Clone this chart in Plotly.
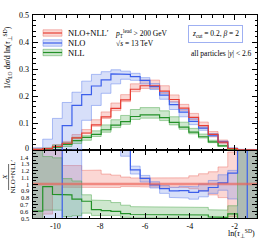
import numpy as np
import plotly.graph_objects as go

# ---- data ----
x_min, x_max, n_bins = -11.0, -1.0, 23
edges = np.linspace(x_min, x_max, n_bins + 1)

# NLO+NLL'
red_c  = [0.002, 0.0052, 0.013, 0.025, 0.045, 0.063, 0.093, 0.123, 0.154, 0.186, 0.225, 0.238,
          0.238, 0.218, 0.187, 0.155, 0.121, 0.090, 0.058, 0.0295, 0.005, 0.0005, 0.0002]
red_lo = [0.0, 0.0029, 0.011, 0.0238, 0.0428, 0.060, 0.088, 0.117, 0.146, 0.179, 0.216, 0.228,
          0.228, 0.209, 0.178, 0.147, 0.1125, 0.081, 0.0487, 0.0236, 0.0026, 0.0, 0.0]
red_hi = [0.006, 0.0083, 0.020, 0.0318, 0.0572, 0.0756, 0.112, 0.141, 0.174, 0.205, 0.245, 0.259,
          0.259, 0.238, 0.204, 0.169, 0.1355, 0.1035, 0.0684, 0.0369, 0.00735, 0.0015, 0.0006]
# NLO
blue_c  = [-0.10, -0.06, -0.03, 0.090, 0.165, 0.205, 0.237, 0.260, 0.282, 0.280, 0.272, 0.258,
           0.235, 0.203, 0.168, 0.140, 0.106, 0.081, 0.055, 0.030, 0.0058, 0.0008, 0.0]
blue_lo = [-0.3, -0.2, -0.15, -0.05, 0.0, 0.11, 0.165, 0.21, 0.245, 0.262, 0.258, 0.245,
           0.224, 0.188, 0.150, 0.123, 0.094, 0.073, 0.050, 0.0268, 0.0039, -0.002, -0.002]
blue_hi = [0.008, 0.040, 0.117, 0.176, 0.214, 0.255, 0.280, 0.290, 0.297, 0.292, 0.284, 0.268,
           0.246, 0.213, 0.178, 0.150, 0.116, 0.090, 0.061, 0.0335, 0.0060, 0.003, 0.002]
# NLL
green_c  = [0.0012, 0.005, 0.011, 0.021, 0.035, 0.047, 0.058, 0.075, 0.092, 0.105, 0.124, 0.130,
            0.130, 0.120, 0.102, 0.085, 0.066, 0.049, 0.030, 0.015, 0.0028, 0.00001, 0.0]
green_lo = [0.0, 0.0032, 0.008, 0.013, 0.024, 0.036, 0.050, 0.066, 0.083, 0.095, 0.113, 0.118,
            0.118, 0.109, 0.093, 0.077, 0.060, 0.0445, 0.0272, 0.0135, 0.0024, 0.0, 0.0]
green_hi = [0.0035, 0.0073, 0.018, 0.027, 0.047, 0.053, 0.071, 0.093, 0.112, 0.128, 0.150, 0.157,
            0.157, 0.145, 0.123, 0.103, 0.080, 0.059, 0.036, 0.0182, 0.0034, 0.001, 0.0004]

x_ticks = [-10, -8, -6, -4, -2]
x_tick_text = ["-10", "-8", "-6", "-4", "-2"]
y_ticks = [0, 0.1, 0.2, 0.3, 0.4, 0.5]
y_tick_text = ["0", "0.1", "0.2", "0.3", "0.4", "0.5"]
r_ticks = [0.5, 0.6, 0.7, 0.8, 0.9, 1.0, 1.1, 1.2, 1.3, 1.4]
r_tick_text = ["0.5", "0.6", "0.7", "0.8", "0.9", "1", "1.1", "1.2", "1.3", "1.4"]

series = [
    ("NLO+NLL′", red_c, red_lo, red_hi, "rgb(232,62,52)", "rgba(240,110,100,0.28)", "rgba(235,100,90,0.55)"),
    ("NLO", blue_c, blue_lo, blue_hi, "rgb(60,95,235)", "rgba(110,140,235,0.28)", "rgba(90,125,235,0.6)"),
    ("NLL", green_c, green_lo, green_hi, "rgb(35,145,40)", "rgba(80,170,80,0.28)", "rgba(70,165,70,0.6)"),
]

FONT = "Liberation Serif"


def steps(vals):
    xs = np.repeat(edges, 2)[1:-1]
    ys = np.repeat(np.asarray(vals, dtype=float), 2)
    return xs, ys


fig = go.Figure()
ref = np.asarray(red_c, dtype=float)

for panel in ("main", "ratio"):
    xa, ya = ("x2", "y2") if panel == "main" else ("x", "y")
    div = 1.0 if panel == "main" else ref
    for name, c, lo, hi, lc, fc, ec in series:
        xs, yl = steps(np.asarray(lo) / div)
        _, yh = steps(np.asarray(hi) / div)
        fig.add_trace(go.Scatter(x=np.concatenate([xs, xs[::-1]]), y=np.concatenate([yh, yl[::-1]]),
                                 fill="toself", fillcolor=fc, line=dict(color=ec, width=0.8),
                                 mode="lines", xaxis=xa, yaxis=ya, showlegend=False, hoverinfo="skip"))
    for name, c, lo, hi, lc, fc, ec in series[::-1]:
        xs, yc = steps(np.asarray(c) / div)
        if panel == "ratio" and name == "NLO+NLL′":
            line = dict(color="rgba(235,95,85,0.65)", width=2.5)
        else:
            line = dict(color=lc, width=1.2)
        fig.add_trace(go.Scatter(x=xs, y=yc, mode="lines", line=line, xaxis=xa, yaxis=ya,
                                 showlegend=False, hoverinfo="skip"))

split = 68 / 203
axis_common = dict(showline=True, linecolor="black", linewidth=1, mirror="ticks", ticks="inside",
                   tickcolor="black", ticklen=5, tickwidth=0.8, showgrid=False, zeroline=False,
                   automargin=False, tickfont=dict(family=FONT, size=8, color="black"))
fig.update_layout(
    width=266, height=240, margin=dict(l=33, r=9, t=15, b=22, autoexpand=False),
    paper_bgcolor="white", plot_bgcolor="white", showlegend=False,
    font=dict(family=FONT, size=8, color="black"),
    xaxis=dict(domain=[0, 1], range=[x_min, x_max], anchor="y", tickvals=x_ticks, ticktext=x_tick_text,
               showticklabels=True,
               minor=dict(ticks="inside", ticklen=2.5, dtick=0.5, tickcolor="black"), **axis_common),
    xaxis2=dict(domain=[0, 1], range=[x_min, x_max], anchor="y2", matches="x", tickvals=x_ticks,
                showticklabels=False,
                minor=dict(ticks="inside", ticklen=2.5, dtick=0.5, tickcolor="black"), **axis_common),
    yaxis=dict(domain=[0, split], range=[0.5, 1.5], anchor="x", tickvals=r_ticks, showticklabels=False,
               minor=dict(ticks="inside", ticklen=2.5, dtick=0.05, tickcolor="black"), **axis_common),
    yaxis2=dict(domain=[split, 1], range=[0, 0.5], anchor="x2", tickvals=y_ticks, showticklabels=False,
                minor=dict(ticks="inside", ticklen=2.5, dtick=0.02, tickcolor="black"), **axis_common),
)


def px(xp):
    return (xp - 33) / 224


def py(yp):
    return (218 - yp) / 203


def note(x, y, text, size=8, xanchor="center", yanchor="middle", **kw):
    fig.add_annotation(x=x, y=y, xref=kw.pop("xref", "paper"), yref=kw.pop("yref", "paper"), text=text,
                       showarrow=False, xanchor=xanchor, yanchor=yanchor,
                       font=dict(family=FONT, size=size, color="black"), **kw)


# y tick labels
for v, t in zip(y_ticks, y_tick_text):
    note(px(30.5), v, t, size=8, xanchor="right", yref="y2", yshift=2 if v == 0 else 0)
for v, t in zip(r_ticks, r_tick_text):
    note(px(30.5), v, t, size=6.5, xanchor="right", yref="y", yshift=-1 if v == 1.4 else 0)

# legend drawn by hand
for i, (name, c, lo, hi, lc, fc, ec) in enumerate(series):
    yc = [33, 43, 52.5][i]
    fig.add_shape(type="rect", xref="paper", yref="paper", x0=px(43), x1=px(62), y0=py(yc + 3.2),
                  y1=py(yc - 3.2), fillcolor=fc, line=dict(color=ec, width=0.8))
    fig.add_shape(type="line", xref="paper", yref="paper", x0=px(43), x1=px(62), y0=py(yc), y1=py(yc),
                  line=dict(color=lc, width=1.2))
    note(px(66), py(yc), name, size=8.5, xanchor="left")

note(px(141), py(33), "<i>p</i><sub>T</sub><sup>lead</sup> > 200 GeV", size=7.5)
note(px(135), py(43.5), "√<i>s</i> = 13 TeV", size=7.5)
note(px(215.5), py(34), "<i>z</i><sub>cut</sub> = 0.2, <i>β</i> = 2", size=7.5,
     bordercolor="#9fb0f2", borderwidth=1, borderpad=3, bgcolor="white")
note(px(254), py(53), "all particles |<i>y</i>| < 2.6", size=7.5, xanchor="right")
note(px(257), py(234), "ln(<i>τ</i><sub>⊥</sub><sup>SD</sup>)", size=8, xanchor="right")
note(px(8), py(58), "1/<i>σ</i><sub>LO</sub> d<i>σ</i>/d ln(<i>τ</i><sub>⊥</sub><sup>SD</sup>)", size=8,
     textangle=-90)
note(px(5), py(177), "<i>X</i>", size=7, textangle=-90)
note(px(12.5), py(177), "NLO+NLL′", size=7, textangle=-90)
fig.add_shape(type="line", xref="paper", yref="paper", x0=px(8.6), x1=px(8.6), y0=py(164), y1=py(190),
              line=dict(color="black", width=0.6))

fig.write_html("out.html", post_script="document.body.style.margin='0px';",
               config={"displayModeBar": False})
